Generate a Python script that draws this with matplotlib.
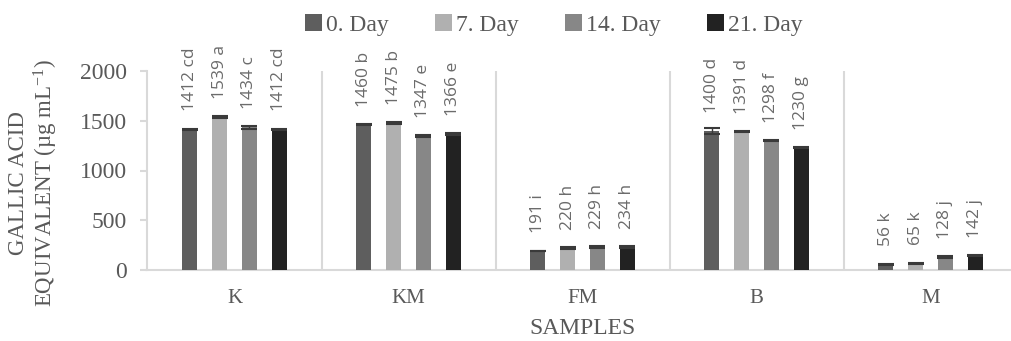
import numpy as np
import matplotlib
matplotlib.use("Agg")
import matplotlib.pyplot as plt

# data
samples = ["K", "KM", "FM", "B", "M"]
days = ["0. Day", "7. Day", "14. Day", "21. Day"]
day0 = [1412, 1460, 191, 1400, 56]
day7 = [1539, 1475, 220, 1391, 65]
day14 = [1434, 1347, 229, 1298, 128]
day21 = [1412, 1366, 234, 1230, 142]
err0 = [8, 6, 4, 30, 6]
err7 = [10, 12, 8, 8, 8]
err14 = [12, 12, 10, 6, 8]
err21 = [8, 8, 10, 6, 6]
let0 = ["cd", "b", "i", "d", "k"]
let7 = ["a", "b", "h", "d", "k"]
let14 = ["c", "e", "h", "f", "j"]
let21 = ["cd", "e", "h", "g", "j"]
yticks = [0, 500, 1000, 1500, 2000]

colors = ["#5e5e5e", "#b0b0b0", "#878787", "#222222"]
grey = "#595959"
serif = ["Liberation Serif", "DejaVu Serif"]

plt.rcParams["mathtext.fontset"] = "custom"
plt.rcParams["mathtext.rm"] = "Liberation Serif"
plt.rcParams["mathtext.it"] = "Liberation Serif:italic"

fig = plt.figure(figsize=(10.12, 3.41), dpi=100)
ax = fig.add_axes([147.5 / 1012, 1 - 270 / 341, 870 / 1012, 199 / 341])

x = np.arange(len(samples))
width = 0.088
step = 0.1724
series = [(day0, err0, let0), (day7, err7, let7), (day14, err14, let14), (day21, err21, let21)]

for i, (vals, errs, lets) in enumerate(series):
    pos = x + (i - 1.5) * step
    ax.bar(pos, vals, width, color=colors[i], label=days[i], zorder=3)
    ax.errorbar(pos, vals, yerr=errs, fmt="none", ecolor="#3a3a3a",
                elinewidth=1.0, capsize=5.5, capthick=1.5, zorder=4)
    for p, v, l in zip(pos, vals, lets):
        ax.annotate(f"{v} {l}", (p, v), xytext=(0, 13), textcoords="offset points",
                    rotation=90, ha="center", va="bottom", fontsize=12.5,
                    color="#6b6b6b", family="Open Sans")

ax.set_xlim(-0.5, len(samples) - 0.5)
ax.set_ylim(0, 2000)
ax.set_yticks(yticks)
ax.set_xticks(x)
ax.set_xticklabels(samples)

# separators between categories
for s in np.arange(0.5, len(samples) - 0.5, 1.0):
    ax.axvline(s, color="#d9d9d9", lw=1.5, zorder=1)

for side in ["top", "right"]:
    ax.spines[side].set_visible(False)
ax.spines["left"].set_color("#d9d9d9")
ax.spines["left"].set_linewidth(1.5)
ax.spines["bottom"].set_color("#d9d9d9")
ax.spines["bottom"].set_linewidth(1.5)

ax.tick_params(axis="y", length=5, width=1.5, color="#d9d9d9", pad=10,
               labelsize=17, labelcolor=grey)
ax.tick_params(axis="x", length=0, pad=14, labelsize=15, labelcolor=grey)
for t in ax.get_xticklabels() + ax.get_yticklabels():
    t.set_family(serif)

ax.set_xlabel("SAMPLES", fontsize=17, color=grey, family=serif, labelpad=7)
fig.text(34 / 1012, 1 - 183 / 341, "GALLIC ACID\nEQUIVALENT (µg mL$^{-1}$)",
         rotation=90, ha="center", va="center", fontsize=16.5, color=grey,
         family=serif, linespacing=1.1, multialignment="center")

leg = fig.legend(loc="center", bbox_to_anchor=(554 / 1012, 1 - 25 / 341), ncol=4,
                 frameon=False, handlelength=0.7, handleheight=0.7, handletextpad=0.2,
                 columnspacing=1.95, prop={"family": serif, "size": 17})
for t in leg.get_texts():
    t.set_color(grey)

fig.savefig("out.png", dpi=100)
